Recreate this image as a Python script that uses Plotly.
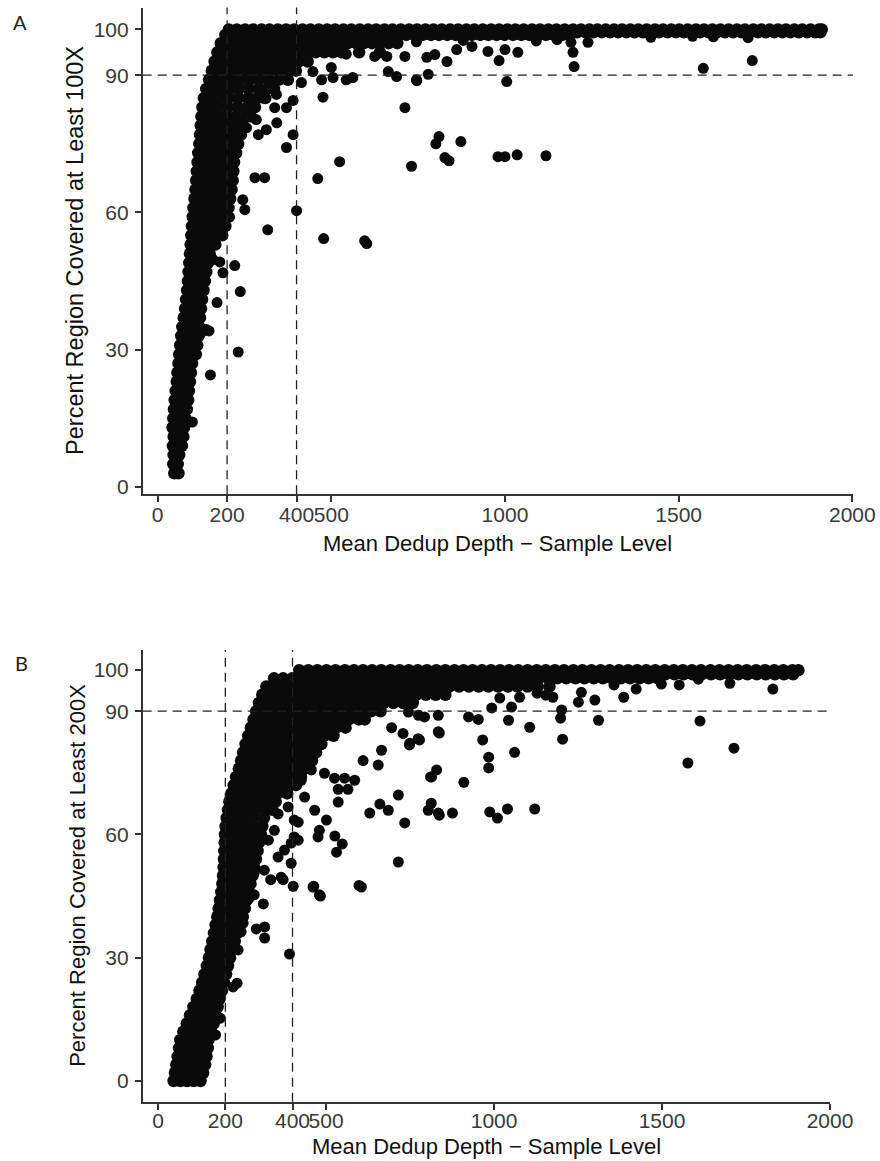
import plotly.graph_objects as go

# ---------------- Panel A (>=100X) ----------------
# dense band: row y values and the x positions of points on each row
a_band_y = [3, 5, 7, 9, 11, 13, 15, 17, 19, 21, 23, 25, 27, 29, 31, 33, 35, 37, 39, 41,
            43, 45, 47, 49, 51, 53, 55, 57, 59, 61, 63, 65, 67, 69, 71, 73, 75, 77, 79, 81,
            83, 85, 87, 89, 91, 93, 95, 97, 98.8, 99.4, 100]
a_band_x = [
    [48, 60], [45, 58], [46, 62], [44, 58, 70], [46, 60, 74], [43, 58, 76], [45, 62, 80],
    [47, 65, 84], [49, 68, 88], [52, 71, 90], [55, 74, 93], [57, 77, 96], [60, 80, 99],
    [62, 82, 100, 110], [65, 84, 102, 114], [68, 86, 104, 118], [71, 90, 106, 120],
    [75, 93, 109, 122], [79, 96, 112, 125], [82, 99, 115, 128], [85, 102, 118, 132],
    [87, 104, 120, 136], [89, 106, 123, 140], [91, 108, 126, 145], [93, 111, 130, 150],
    [95, 113, 132, 150, 166], [97, 115, 134, 153, 170, 186], [99, 117, 136, 155, 175, 195],
    [101, 119, 138, 158, 178, 199], [103, 121, 141, 162, 183, 204], [106, 124, 144, 166, 188, 209],
    [109, 127, 147, 169, 191, 213], [111, 130, 150, 172, 194, 216], [113, 132, 153, 175, 197, 218],
    [115, 135, 156, 178, 200, 220], [117, 138, 160, 182, 204, 226], [120, 141, 163, 186, 209, 232],
    [122, 144, 166, 190, 215, 240], [124, 146, 169, 194, 220, 246],
    [126, 148, 172, 198, 225, 252, 268], [129, 151, 175, 202, 230, 258, 280],
    [133, 155, 179, 205, 232, 260, 287, 310], [140, 161, 184, 208, 234, 262, 290, 316, 335],
    [148, 168, 190, 213, 238, 264, 292, 320, 348, 375],
    [156, 176, 198, 221, 245, 270, 296, 322, 348, 374, 398],
    [164, 184, 206, 229, 253, 278, 303, 328, 354, 380, 406, 432],
    [172, 192, 214, 237, 261, 285, 309, 333, 357, 381, 405, 430, 455, 480, 505, 530, 580, 640],
    [182, 204, 226, 249, 272, 295, 318, 341, 364, 387, 410, 433, 456, 479, 502, 525, 548,
     571, 594, 617, 640, 665, 690],
    [195, 218, 243, 266, 290, 313, 338, 361, 385, 409, 432, 456, 480, 503, 527, 551, 574,
     598, 621, 645, 669, 692, 716, 740, 763, 787, 810, 834, 858, 881, 905, 929, 952, 976,
     999, 1023, 1047, 1070, 1094, 1118, 1141, 1165, 1188],
    [1208, 1232, 1255, 1279, 1303, 1326, 1350, 1373, 1397, 1421, 1444, 1468, 1492, 1515,
     1539, 1562, 1586, 1610, 1633, 1657, 1681, 1704, 1728, 1751, 1775, 1799, 1822, 1846,
     1870, 1893, 1908],
    [205, 228, 252, 275, 299, 322, 346, 370, 393, 417, 440, 464, 488, 511, 535, 558, 582,
     606, 629, 653, 676, 700, 724, 747, 771, 794, 818, 842, 865, 889, 912, 936, 960, 983,
     1007, 1030, 1054, 1078, 1101, 1125, 1148, 1172, 1196, 1219, 1243, 1266, 1290, 1314,
     1337, 1361, 1384, 1408, 1432, 1455, 1479, 1502, 1526, 1550, 1573, 1597, 1620, 1644,
     1668, 1691, 1715, 1738, 1762, 1786, 1809, 1833, 1856, 1880, 1904, 1912],
]
# scattered samples (mean depth, percent covered)
a_out = [
    (476, 85.2), (712, 82.9), (524, 71.1), (731, 70.1), (461, 67.4), (400, 60.4), (478, 54.3),
    (602, 53.2), (596, 53.8), (317, 56.2), (280, 67.6), (308, 67.6), (371, 74.2), (390, 77),
    (343, 79.6), (284, 80.3), (313, 78.1), (337, 82.9), (371, 82.9), (390, 84.5), (342, 85.8),
    (302, 85), (245, 62.8), (251, 60.6), (207, 59), (222, 72.6), (231, 75.2), (256, 78.5),
    (290, 77), (414, 88.4), (447, 90.8), (472, 89), (500, 91.7), (505, 89.5), (543, 89),
    (562, 89.5), (664, 90.8), (688, 89.7), (745, 89), (779, 90.2), (625, 94.1), (660, 94.1),
    (712, 94.1), (775, 93.9), (798, 94.5), (467, 95.2), (543, 94.6), (833, 93), (861, 95.6),
    (905, 96.3), (951, 95.2), (983, 93.2), (1000, 95.6), (1037, 95), (746, 88.8), (1005, 88.6),
    (810, 76.6), (801, 75), (873, 75.5), (827, 72), (839, 71.3), (980, 72.2), (1000, 72.2),
    (1035, 72.6), (1118, 72.4), (1196, 95), (1199, 91.9), (1571, 91.5), (1712, 93.2),
    (1239, 97.2), (1190, 97.2), (222, 48.4), (188, 46.8), (238, 42.7), (171, 40.3),
    (148, 34.1), (140, 34.4), (130, 34), (232, 29.5), (152, 24.5), (100, 14.2), (160, 49.7),
    (179, 49.2), (745, 97.3), (880, 97.6), (1090, 97.5), (1150, 97.8), (1420, 98.3),
    (1600, 98.4), (1700, 98.2), (1540, 98.5),
]

# ---------------- Panel B (>=200X) ----------------
b_band_y = [0, 2, 4, 6, 8, 10, 12, 14, 16, 18, 20, 22, 24, 26, 28, 30, 32, 34, 36, 38, 40,
            42, 44, 46, 48, 50, 52, 54, 56, 58, 60, 62, 64, 66, 68, 70, 72, 74, 76, 78, 80,
            82, 84, 86, 88, 90, 92, 94, 96, 98, 99, 100]
b_band_x = [
    [46, 66, 86, 106, 126], [50, 71, 92, 113, 134], [54, 75, 97, 118, 140],
    [58, 79, 101, 122, 144], [62, 84, 105, 127, 148], [66, 87, 108, 129, 150],
    [75, 96, 117, 137, 158], [85, 105, 125, 145, 165], [95, 114, 133, 152, 171],
    [105, 123, 141, 159, 177], [115, 132, 149, 166, 183], [123, 140, 157, 174, 190],
    [131, 147, 163, 179, 196], [138, 154, 170, 186, 202], [145, 161, 177, 192, 208],
    [151, 167, 183, 198, 214], [156, 172, 188, 204, 220], [161, 178, 195, 212, 228],
    [166, 183, 200, 218, 236], [171, 189, 207, 226, 245], [176, 195, 214, 233, 252],
    [180, 199, 218, 238, 258], [184, 204, 223, 243, 263], [188, 208, 228, 248, 268],
    [191, 212, 233, 254, 275], [193, 215, 237, 259, 281], [195, 218, 240, 263, 286],
    [196, 219, 243, 267, 291], [197, 221, 245, 270, 296], [198, 222, 247, 273, 300],
    [199, 223, 249, 276, 306], [201, 225, 252, 280, 310], [204, 228, 255, 284, 315],
    [208, 232, 259, 288, 318, 340], [212, 237, 264, 293, 323, 350],
    [218, 243, 270, 298, 327, 356, 384], [225, 250, 277, 305, 334, 363, 392, 410],
    [232, 257, 284, 312, 341, 370, 399, 425], [240, 265, 292, 320, 349, 378, 407, 436],
    [247, 272, 299, 327, 356, 385, 414, 443, 458], [253, 279, 306, 334, 363, 392, 421, 450, 470],
    [260, 286, 313, 341, 370, 399, 428, 457, 486],
    [268, 294, 321, 349, 378, 407, 436, 465, 494, 522],
    [276, 302, 329, 357, 386, 415, 444, 473, 502, 531, 558],
    [284, 310, 337, 365, 394, 423, 452, 481, 510, 539, 568, 597, 615],
    [292, 318, 345, 373, 402, 431, 460, 489, 518, 547, 576, 605, 634, 662],
    [300, 326, 353, 381, 410, 439, 468, 497, 526, 555, 584, 613, 642, 671, 700, 729, 758],
    [310, 336, 363, 391, 420, 449, 478, 507, 536, 565, 594, 623, 652, 681, 710, 739, 768,
     797, 826, 855],
    [322, 348, 375, 403, 432, 461, 490, 519, 548, 577, 606, 635, 664, 693, 722, 751, 780,
     809, 838, 867, 896, 925, 954, 983, 1012, 1041, 1070, 1100, 1130, 1165],
    [345, 372, 399, 426, 453, 481, 508, 535, 562, 589, 617, 644, 671, 698, 725, 753, 780,
     807, 834, 861, 889, 916, 943, 970, 997, 1025, 1052, 1079, 1106, 1133, 1161, 1188,
     1215, 1242, 1269, 1297, 1324, 1351, 1378, 1405, 1433, 1460, 1487],
    [1510, 1537, 1564, 1591, 1618, 1646, 1673, 1700, 1727, 1754, 1782, 1809, 1836, 1863, 1890],
    [420, 447, 474, 501, 528, 556, 583, 610, 637, 664, 692, 719, 746, 773, 800, 828, 855,
     882, 909, 936, 964, 991, 1018, 1045, 1072, 1100, 1127, 1154, 1181, 1208, 1236, 1263,
     1290, 1317, 1344, 1372, 1399, 1426, 1453, 1480, 1508, 1535, 1562, 1589, 1616, 1644,
     1671, 1698, 1725, 1752, 1780, 1807, 1834, 1861, 1888, 1906],
]
b_out = [
    (715, 69.6), (660, 67.4), (685, 65.9), (630, 65.2), (734, 62.8), (715, 53.3), (605, 47.2),
    (598, 47.6), (531, 55.7), (548, 57.7), (526, 59.6), (476, 59.4), (480, 61), (501, 63.5),
    (466, 65.9), (536, 67.9), (536, 71), (436, 69.1), (417, 63), (417, 58.6), (461, 47.2),
    (480, 45.3), (402, 47.4), (372, 49), (814, 74), (804, 65.9), (834, 65.2), (834, 85),
    (749, 82.2), (774, 83.3), (655, 76.9), (610, 78), (665, 80.5), (585, 73.2), (555, 73.7),
    (525, 73.7), (565, 71), (695, 86), (729, 84.6), (793, 88.6), (745, 89.8), (775, 89),
    (1830, 95.4), (1702, 96.8), (1613, 87.6), (1714, 81), (1577, 77.4), (1386, 93.4),
    (1300, 92.7), (1311, 87.8), (1204, 83.2), (1198, 88.3), (1201, 90.3), (1251, 92.2),
    (1260, 94.6), (1106, 86.1), (1061, 80), (984, 78.8), (984, 76.2), (966, 83), (910, 72.7),
    (829, 75.7), (811, 74), (837, 84.7), (813, 67.6), (837, 64.7), (876, 65.2), (987, 65.5),
    (1010, 64), (1040, 66.2), (1121, 66.2), (1043, 87.8), (1052, 91), (953, 88), (924, 88.6),
    (993, 90.8), (834, 89), (778, 83), (748, 81.8), (1017, 93.2), (1076, 93.4),
    (483, 45), (463, 47.4), (391, 30.9), (317, 34.8), (317, 37.5), (292, 37), (313, 43.1),
    (286, 45.3), (247, 41.8), (271, 44.5), (253, 38.4), (247, 36.3), (238, 31.9), (235, 23.8),
    (223, 22.9), (212, 29.9), (185, 15.3), (171, 11.2), (335, 49), (286, 50.6), (316, 51.3),
    (357, 54.5), (376, 56.2), (396, 57.9), (405, 59.4), (346, 61), (328, 58.6), (366, 49.6),
    (396, 53), (405, 63.5), (387, 66.7), (357, 65), (426, 73.2), (456, 75.7), (495, 74.9),
    (1357, 96.4), (1423, 95.4), (1498, 96.6), (1551, 96.4), (1608, 97.8), (1175, 93.4),
    (1154, 93.9), (1128, 94.4),
]

x_ticks = [0, 200, 400, 500, 1000, 1500, 2000]
y_ticks = [0, 30, 60, 90, 100]
depth_cuts = [200, 400]
pct_cut = 90
x_title = "Mean Dedup Depth \u2212 Sample Level"
a_y_title = "Percent Region Covered at Least 100X"
b_y_title = "Percent Region Covered at Least 200X"


def collect(rows_y, rows_x):
    xs, ys = [], []
    for yv, row in zip(rows_y, rows_x):
        for xv in row:
            xs.append(xv)
            ys.append(yv)
    return xs, ys


W, H = 880, 1161
FONT = "Liberation Sans, Arial, sans-serif"
INK = "#0a0a0a"

a_bx, a_by = collect(a_band_y, a_band_x)
b_bx, b_by = collect(b_band_y, b_band_x)

band_marker = dict(size=12.5, color=INK, line=dict(width=0))
dot_marker = dict(size=11, color=INK, line=dict(width=0))
fig = go.Figure()
for xs, ys, mk, xa, ya in (
    (a_bx, a_by, band_marker, "x", "y"),
    ([p[0] for p in a_out], [p[1] for p in a_out], dot_marker, "x", "y"),
    (b_bx, b_by, band_marker, "x2", "y2"),
    ([p[0] for p in b_out], [p[1] for p in b_out], dot_marker, "x2", "y2"),
):
    fig.add_trace(go.Scatter(x=xs, y=ys, mode="markers", marker=mk, xaxis=xa, yaxis=ya,
                             showlegend=False, hoverinfo="skip"))

# panel pixel boxes
A = dict(l=142.7, r=853.0, t=7.5, b=494.3)
B = dict(l=142.7, r=830.0, t=650.0, b=1101.7)


def xdom(p):
    return [p["l"] / W, p["r"] / W]


def ydom(p):
    return [1 - p["b"] / H, 1 - p["t"] / H]


axis_common = dict(showgrid=False, zeroline=False, showline=True, linecolor="#333333",
                   linewidth=1.6, ticks="outside", ticklen=6, tickwidth=1.5,
                   tickcolor="#333333", tickfont=dict(family=FONT, size=21, color="#3a3a3a"),
                   tickmode="array", automargin=False, fixedrange=True)

fig.update_layout(
    width=W, height=H, margin=dict(l=0, r=0, t=0, b=0),
    paper_bgcolor="white", plot_bgcolor="white",
    xaxis=dict(domain=xdom(A), range=[-43, 2002], anchor="y", tickvals=x_ticks,
               tickangle=0, ticklabelstandoff=-5, **axis_common),
    yaxis=dict(domain=ydom(A), range=[-1.6, 104.8], anchor="x", tickvals=y_ticks,
               ticklabelstandoff=2, **axis_common),
    xaxis2=dict(domain=xdom(B), range=[-46, 2000], anchor="y2", tickvals=x_ticks,
                tickangle=0, ticklabelstandoff=-7, **axis_common),
    yaxis2=dict(domain=ydom(B), range=[-5.04, 104.9], anchor="x2", tickvals=y_ticks,
                ticklabelstandoff=2, **axis_common),
)

dash = dict(color="#222222", width=1.3, dash="9px,6px")
shapes = []
for xr, yr in (("x", "y"), ("x2", "y2")):
    for c in depth_cuts:
        shapes.append(dict(type="line", xref=xr, yref=yr + " domain", x0=c, x1=c, y0=0, y1=1,
                           line=dash, layer="above"))
    shapes.append(dict(type="line", xref=xr + " domain", yref=yr, x0=0, x1=1, y0=pct_cut,
                       y1=pct_cut, line=dash, layer="above"))
fig.update_layout(shapes=shapes)

title_font = dict(family=FONT, size=22, color="#111111")
a_ytitle_font = dict(family=FONT, size=23.5, color="#111111")
label_font = dict(family="Lato, Open Sans, sans-serif", size=20, color="#222222")
ann = [
    dict(text=x_title, x=(A["l"] + A["r"]) / 2 / W, y=1 - 543 / H, xref="paper", yref="paper",
         xanchor="center", yanchor="middle", showarrow=False, font=title_font),
    dict(text=x_title, x=(B["l"] + B["r"]) / 2 / W, y=1 - 1146 / H, xref="paper", yref="paper",
         xanchor="center", yanchor="middle", showarrow=False, font=title_font),
    dict(text=a_y_title, x=75 / W, y=1 - (A["t"] + A["b"]) / 2 / H, xref="paper", yref="paper",
         xanchor="center", yanchor="middle", textangle=-90, showarrow=False, font=a_ytitle_font),
    dict(text=b_y_title, x=78 / W, y=1 - (B["t"] + B["b"]) / 2 / H, xref="paper", yref="paper",
         xanchor="center", yanchor="middle", textangle=-90, showarrow=False, font=title_font),
    dict(text="A", x=11 / W, y=1 - 22 / H, xref="paper", yref="paper", xanchor="left",
         yanchor="middle", showarrow=False, font=label_font),
    dict(text="B", x=13 / W, y=1 - 663 / H, xref="paper", yref="paper", xanchor="left",
         yanchor="middle", showarrow=False, font=label_font),
]
fig.update_layout(annotations=ann)

fig.write_html("out.html", config={"displayModeBar": False},
               post_script="document.body.style.margin='0';document.body.style.padding='0';")
